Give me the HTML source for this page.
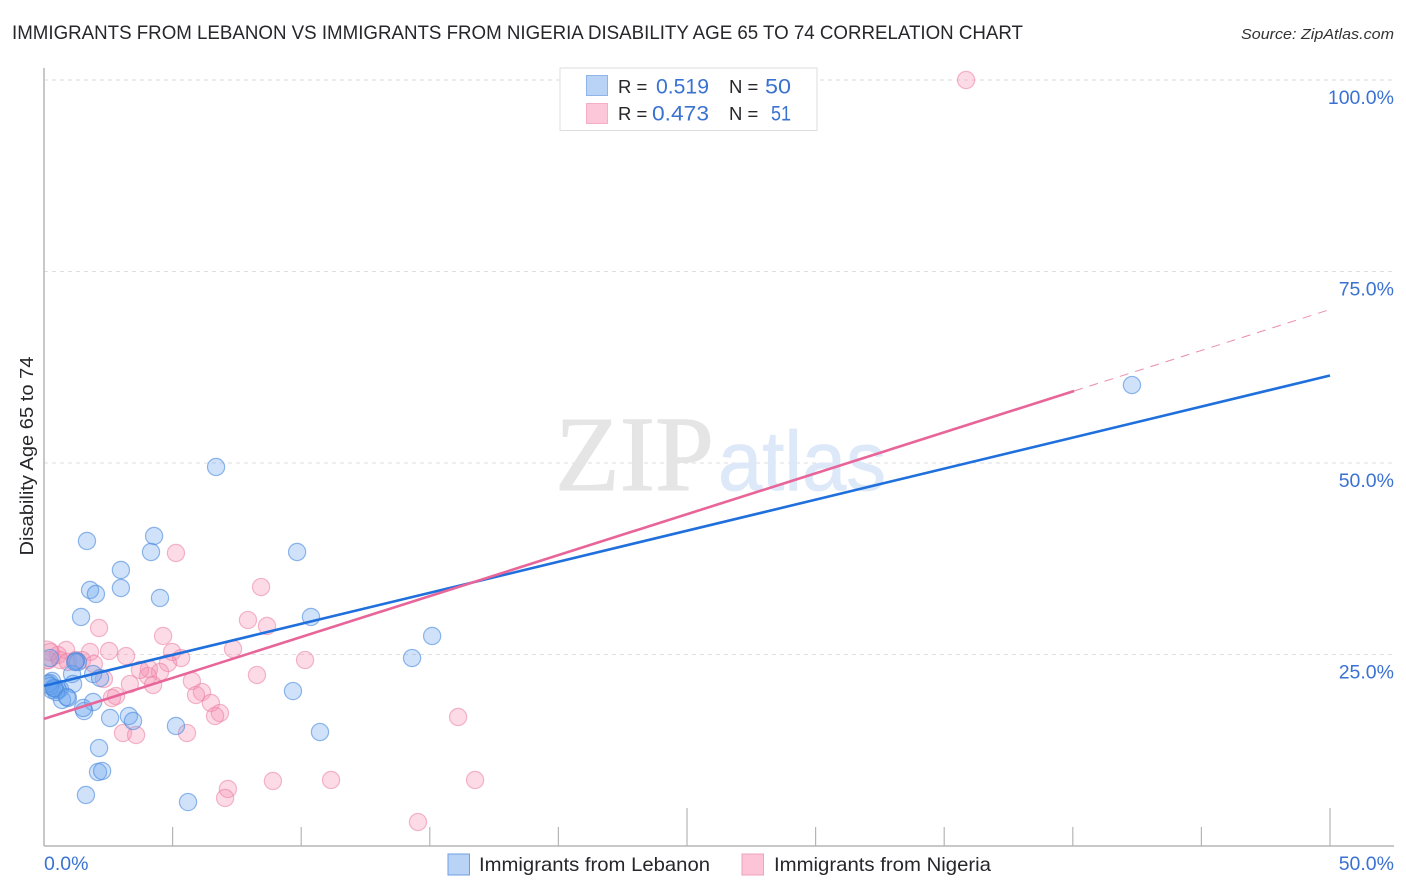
<!DOCTYPE html>
<html lang="en">
<head>
<meta charset="utf-8">
<title>Immigrants from Lebanon vs Immigrants from Nigeria Disability Age 65 to 74 Correlation Chart</title>
<style>
html,body{margin:0;padding:0;background:#fff;}
svg{display:block;font-family:"Liberation Sans",sans-serif;}
</style>
</head>
<body>
<svg id="chart" xmlns="http://www.w3.org/2000/svg" width="1406" height="892" viewBox="0 0 1406 892">
  <defs>
    <clipPath id="plot-clip"><rect x="44.5" y="60" width="1350" height="786"/></clipPath>
  </defs>
  <rect x="0" y="0" width="1406" height="892" fill="#fff"/>
  <text x="12" y="39" font-size="19" fill="#26262b" textLength="1011" lengthAdjust="spacingAndGlyphs">IMMIGRANTS FROM LEBANON VS IMMIGRANTS FROM NIGERIA DISABILITY AGE 65 TO 74 CORRELATION CHART</text>
  <text x="1241" y="39" font-size="15" font-style="italic" fill="#333" textLength="153" lengthAdjust="spacingAndGlyphs">Source: ZipAtlas.com</text>
  <g id="grid"></g>
  <g>
    <text x="555" y="490" font-family="'Liberation Serif',serif" font-size="107" fill="#e5e5e5" stroke="#e5e5e5" stroke-width="1" textLength="159" lengthAdjust="spacingAndGlyphs">ZIP</text>
    <text x="718" y="490" font-size="84" fill="#dde9f9" stroke="#dde9f9" stroke-width="0.8" textLength="168" lengthAdjust="spacingAndGlyphs">atlas</text>
  </g>
  <g id="axes"></g>
  <g id="points" clip-path="url(#plot-clip)"></g>
  <g id="trends"></g>
  <g id="labels"></g>
  <text transform="translate(33,456) rotate(-90)" text-anchor="middle" font-size="18.5" fill="#26262b" textLength="199" lengthAdjust="spacingAndGlyphs">Disability Age 65 to 74</text>

  <g>
    <rect x="560" y="68" width="257" height="62.5" fill="#fff" stroke="#ddd" stroke-width="1"/>
    <rect x="586.5" y="75.5" width="21" height="20" fill="#b9d3f6" stroke="#8fb5e8"/>
    <rect x="586.5" y="103.5" width="21" height="20" fill="#fcc8d9" stroke="#f4afc7"/>
    <text x="618" y="93" font-size="18.5" fill="#26262b">R =</text>
    <text x="656" y="93.5" font-size="21" fill="#3a72d2" textLength="53" lengthAdjust="spacingAndGlyphs">0.519</text>
    <text x="729" y="93" font-size="18.5" fill="#26262b">N =</text>
    <text x="765" y="93.5" font-size="21" fill="#3a72d2" textLength="26" lengthAdjust="spacingAndGlyphs">50</text>
    <text x="618" y="120" font-size="18.5" fill="#26262b">R =</text>
    <text x="652" y="120.5" font-size="21" fill="#3a72d2" textLength="57" lengthAdjust="spacingAndGlyphs">0.473</text>
    <text x="729" y="120" font-size="18.5" fill="#26262b">N =</text>
    <text x="771" y="120.5" font-size="21" fill="#3a72d2" textLength="20" lengthAdjust="spacingAndGlyphs">51</text>
  </g>

  <g>
    <g>
      <rect x="448" y="854" width="21.5" height="21" fill="#b9d3f6" stroke="#6f9fdf"/>
      <text x="479" y="871" font-size="19.5" fill="#26262b" textLength="231" lengthAdjust="spacingAndGlyphs">Immigrants from Lebanon</text>
    </g>
    <g>
      <rect x="742" y="854" width="21.5" height="21" fill="#fcc4d6" stroke="#eea2bb"/>
      <text x="774" y="871" font-size="19.5" fill="#26262b" textLength="217" lengthAdjust="spacingAndGlyphs">Immigrants from Nigeria</text>
    </g>
  </g>
</svg>

<script>
// Data (percent units)
var lebanonX = [6.69,42.30,4.28,1.67,4.16,9.84,2.99,2.99,1.79,2.02,4.51,1.44,10.38,15.09,14.31,1.32,1.24,0.23,1.91,1.09,2.18,1.13,0.31,0.23,9.68,0.62,0.43,0.54,0.70,0.93,1.91,1.56,1.52,2.57,3.30,3.46,5.13,10.73,2.14,2.10,2.26,1.63,5.60,0.31,0.47,0.16,1.21,0.23,0.89,0.39];
var lebanonY = [49.48,60.18,40.47,39.82,38.38,38.38,36.03,33.68,33.42,32.90,32.38,29.90,29.90,27.42,24.54,24.02,24.15,24.54,22.45,22.45,21.93,21.15,21.54,21.28,20.23,20.50,20.50,20.37,19.06,19.32,18.80,17.62,18.02,16.71,16.97,16.32,15.67,14.88,12.79,9.66,9.79,6.66,5.74,20.37,20.10,21.15,24.02,20.89,19.45,20.63];
var nigeriaX = [0.08,35.85,5.13,8.44,7.93,8.67,2.14,4.63,7.35,2.53,0.86,0.54,1.79,4.98,3.19,5.33,10.15,0.16,0.62,0.93,1.48,1.94,4.82,4.08,4.51,4.04,8.28,3.73,2.33,5.75,3.34,4.24,6.14,5.91,2.80,2.64,6.49,6.84,6.65,16.10,3.07,3.58,5.56,7.15,7.04,8.90,11.16,16.76,14.54,1.24,0.23];
var nigeriaY = [24.93,100,38.25,33.81,29.50,28.72,28.46,27.42,25.72,25.46,25.59,24.93,25.33,25.33,24.80,24.54,24.28,24.28,24.28,24.02,24.28,23.76,23.89,23.11,22.72,22.19,22.32,22.98,21.80,21.54,21.15,21.02,20.10,19.71,19.58,19.32,18.67,17.36,16.97,16.84,14.75,14.49,14.75,7.44,6.27,8.49,8.62,8.62,3.13,24.28,25.33];
// Trend lines: [x, y] in percent
var lebanonTrendX = [0,50];
var lebanonTrendY = [20.9,61.42];
var nigeriaTrendX = [0,40.05];
var nigeriaTrendY = [16.6,59.4];
var nigeriaForecastX = [40.05,50];
var nigeriaForecastY = [59.4,70.04];
// Axis ticks
var xTickValues = [5,10,15,20,25,30,35,40,45,50];
var xMajorTicks = [25,50];
var yTickValues = [25,50,75,100];
var yTickLabels = ["25.0%","50.0%","75.0%","100.0%"];
var xEndValues = [0,50];
var xEndLabels = ["0.0%","50.0%"];

var SVGNS = "http://www.w3.org/2000/svg";
function xScale(v){ return 44 + v * 25.72; }
function yScale(v){ return 846 - v * 7.66; }
function mk(tag, parent, attrs){
  var el = document.createElementNS(SVGNS, tag);
  for (var k in attrs) el.setAttribute(k, attrs[k]);
  parent.appendChild(el);
  return el;
}

var gridG = document.getElementById("grid");
var axesG = document.getElementById("axes");
var pointsG = document.getElementById("points");
var trendsG = document.getElementById("trends");
var labelsG = document.getElementById("labels");

yTickValues.forEach(function(v, i){
  var line = mk("line", gridG, {x1:44, x2:1394, y1:yScale(v), y2:yScale(v), stroke:"#dedede", "stroke-width":1, "stroke-dasharray":"4 4"});
  
  
  var label = mk("text", labelsG, {x:1394, y:yScale(v)+24, "text-anchor":"end", "font-size":19.5, fill:"#3a72d2"});
  label.textContent = yTickLabels[i];
  
  
});

var yAxis = mk("line", axesG, {x1:44, x2:44, y1:68, y2:846, stroke:"#b5b5b5", "stroke-width":1.5});


var xAxis = mk("line", axesG, {x1:44, x2:1394, y1:846, y2:846, stroke:"#b5b5b5", "stroke-width":1.5});



xTickValues.forEach(function(v){
  var major = xMajorTicks.indexOf(v) >= 0;
  var tick = mk("line", axesG, {x1:xScale(v), x2:xScale(v), y1:major ? 808 : 827, y2:846, stroke:"#b5b5b5", "stroke-width":1.2});
  
  
});

xEndValues.forEach(function(v, i){
  var label = mk("text", labelsG, {x: i === 0 ? xScale(v) : 1394, y:870, "text-anchor": i === 0 ? "start" : "end", "font-size":19.5, fill:"#3a72d2"});
  label.textContent = xEndLabels[i];
  
  
});

nigeriaX.forEach(function(v, i){
  var c = mk("circle", pointsG, {cx:xScale(v), cy:yScale(nigeriaY[i]), r: i === 0 ? 14 : 8.6, fill:"#f590b0", "fill-opacity":0.32, stroke:"#ea7fa3", "stroke-opacity":0.55, "stroke-width":1.2});
  
  
});
lebanonX.forEach(function(v, i){
  var c = mk("circle", pointsG, {cx:xScale(v), cy:yScale(lebanonY[i]), r:8.6, fill:"#6aa5ee", "fill-opacity":0.32, stroke:"#4a88de", "stroke-opacity":0.6, "stroke-width":1.2});
  
  
});

var blueLine = mk("line", trendsG, {x1:xScale(lebanonTrendX[0]), y1:yScale(lebanonTrendY[0]), x2:xScale(lebanonTrendX[1]), y2:yScale(lebanonTrendY[1]), stroke:"#1f6fdc", "stroke-width":2.6});


var pinkLine = mk("line", trendsG, {x1:xScale(nigeriaTrendX[0]), y1:yScale(nigeriaTrendY[0]), x2:xScale(nigeriaTrendX[1]), y2:yScale(nigeriaTrendY[1]), stroke:"#e8659a", "stroke-width":2.6});


var pinkDash = mk("line", trendsG, {x1:xScale(nigeriaForecastX[0]), y1:yScale(nigeriaForecastY[0]), x2:xScale(nigeriaForecastX[1]), y2:yScale(nigeriaForecastY[1]), stroke:"#ea8cae", "stroke-width":1, "stroke-dasharray":"9 7"});


</script>
</body>
</html>
